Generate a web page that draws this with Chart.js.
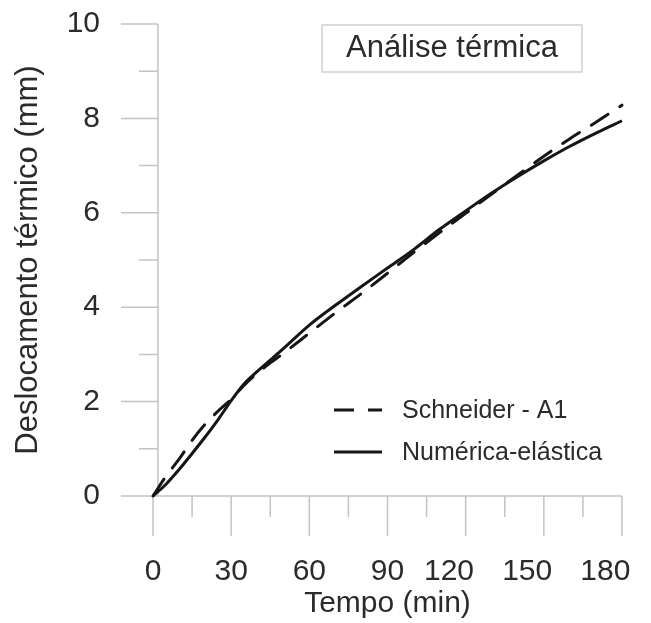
<!DOCTYPE html>
<html lang="pt">
<head>
<meta charset="UTF-8">
<title>Análise térmica</title>
<script src="https://cdn.jsdelivr.net/npm/chart.js"></script>
<style>
  * { margin: 0; padding: 0; box-sizing: border-box; }
  body { background: white; width: 651px; height: 623px; overflow: hidden; }
  canvas { display: block; }
</style>
</head>
<body>
<canvas id="grafico" width="651" height="623"></canvas>
<script>
// tempo (min) e deslocamento (mm)
var tempo = [0, 5, 10, 15, 20, 25, 30, 35, 40, 45, 50, 60, 70, 80, 90, 100, 110, 120, 130, 140, 150, 160, 170, 180];
var schneider = [0, 0.42, 0.78, 1.18, 1.52, 1.80, 2.05, 2.35, 2.60, 2.82, 3.02, 3.45, 3.88, 4.29, 4.72, 5.16, 5.58, 5.99, 6.40, 6.80, 7.20, 7.57, 7.92, 8.28];
var numerica = [0, 0.25, 0.56, 0.90, 1.25, 1.62, 2.02, 2.38, 2.64, 2.88, 3.12, 3.62, 4.04, 4.44, 4.83, 5.22, 5.65, 6.04, 6.42, 6.77, 7.10, 7.41, 7.69, 7.95];
var xTicks = [0, 30, 60, 90, 120, 150, 180];
var yTicks = [0, 2, 4, 6, 8, 10];
var nomes = ["Schneider - A1", "Numérica-elástica"];

var fonte = "'Liberation Sans', Arial, sans-serif";
var texto = "#2b2b2b";
var cinza = "#c4c4c4";
var tracejado = [20, 14];

function pontos(ys) {
    return tempo.map(function (t, i) { return { x: t, y: ys[i] }; });
}

// eixos com ticks maiores e menores, como no original
var eixos = {
    id: "eixos",
    beforeDatasetsDraw: function (chart) {
        var c = chart.ctx, xs = chart.scales.x, ys = chart.scales.y;
        var a = chart.chartArea;
        var x0 = a.left + 5, y0 = a.bottom;
        c.save();
        c.strokeStyle = cinza;
        c.lineWidth = 1.5;
        c.beginPath();
        c.moveTo(x0, a.top); c.lineTo(x0, y0);
        c.moveTo(a.left - 32, y0); c.lineTo(a.right, y0);
        for (var v = 0; v <= 10; v++) {
            var py = ys.getPixelForValue(v);
            c.moveTo(x0 - (v % 2 === 0 ? 37 : 19), py); c.lineTo(x0, py);
        }
        for (var t = 0; t <= 180; t += 15) {
            var px = xs.getPixelForValue(t);
            c.moveTo(px, y0); c.lineTo(px, y0 + (t % 30 === 0 ? 40 : 21));
        }
        c.stroke();
        c.restore();
    },
    afterDraw: function (chart) {
        var c = chart.ctx;
        c.save();
        // caixa do título
        c.strokeStyle = "#d0d0d0";
        c.lineWidth = 1.5;
        c.strokeRect(322, 25, 260, 47);
        c.fillStyle = texto;
        c.font = "31px " + fonte;
        c.textAlign = "center";
        c.textBaseline = "middle";
        c.fillText("Análise térmica", 452, 48);

        // legenda
        var linhas = [410, 452];
        c.textAlign = "left";
        c.font = "25px " + fonte;
        chart.data.datasets.forEach(function (ds, i) {
            c.strokeStyle = ds.borderColor;
            c.lineWidth = 3;
            c.setLineDash(ds.borderDash || []);
            c.beginPath();
            c.moveTo(334, linhas[i]); c.lineTo(382, linhas[i]);
            c.stroke();
            c.setLineDash([]);
            c.fillText(ds.label, 402, linhas[i] + 1);
        });
        c.restore();
    }
};

new Chart(document.getElementById("grafico"), {
    type: "line",
    data: {
        datasets: [{
            label: nomes[0],
            data: pontos(schneider),
            borderColor: "#161616",
            borderWidth: 3,
            borderDash: tracejado,
            borderCapStyle: "round",
            pointRadius: 0,
            cubicInterpolationMode: "monotone",
            clip: false
        }, {
            label: nomes[1],
            data: pontos(numerica),
            borderColor: "#161616",
            borderWidth: 3,
            pointRadius: 0,
            cubicInterpolationMode: "monotone",
            clip: false
        }]
    },
    options: {
        responsive: false,
        animation: false,
        layout: { padding: { top: 24, right: 29, left: 0, bottom: 0 } },
        plugins: {
            legend: { display: false },
            tooltip: { enabled: false }
        },
        scales: {
            x: {
                type: "linear",
                min: 0, max: 180,
                afterFit: function (s) { s.height = 127; s.paddingLeft = 0; s.paddingRight = 0; },
                afterBuildTicks: function (s) { s.ticks = xTicks.map(function (v) { return { value: v }; }); },
                grid: { display: false, drawTicks: false },
                border: { display: false },
                ticks: {
                    color: texto, font: { family: fonte, size: 30 }, padding: 58, maxRotation: 0, autoSkip: false,
                    // os rótulos de 3 algarismos ficam um pouco à esquerda no original
                    callback: function (v) { return v >= 100 ? v + "    " : String(v); }
                },
                title: { display: true, text: "Tempo (min)", color: texto, font: { family: fonte, size: 30 }, padding: { top: 0, bottom: 1 } }
            },
            y: {
                min: 0, max: 10,
                afterFit: function (s) { s.width = 153; s.paddingTop = 0; s.paddingBottom = 0; },
                afterBuildTicks: function (s) { s.ticks = yTicks.map(function (v) { return { value: v }; }); },
                grid: { display: false, drawTicks: false },
                border: { display: false },
                ticks: { color: texto, font: { family: fonte, size: 30 }, padding: 53 },
                title: { display: true, text: "Deslocamento térmico (mm)", color: texto, font: { family: fonte, size: 31 }, padding: { top: 10, bottom: 0 } }
            }
        }
    },
    plugins: [eixos]
});
</script>
</body>
</html>
